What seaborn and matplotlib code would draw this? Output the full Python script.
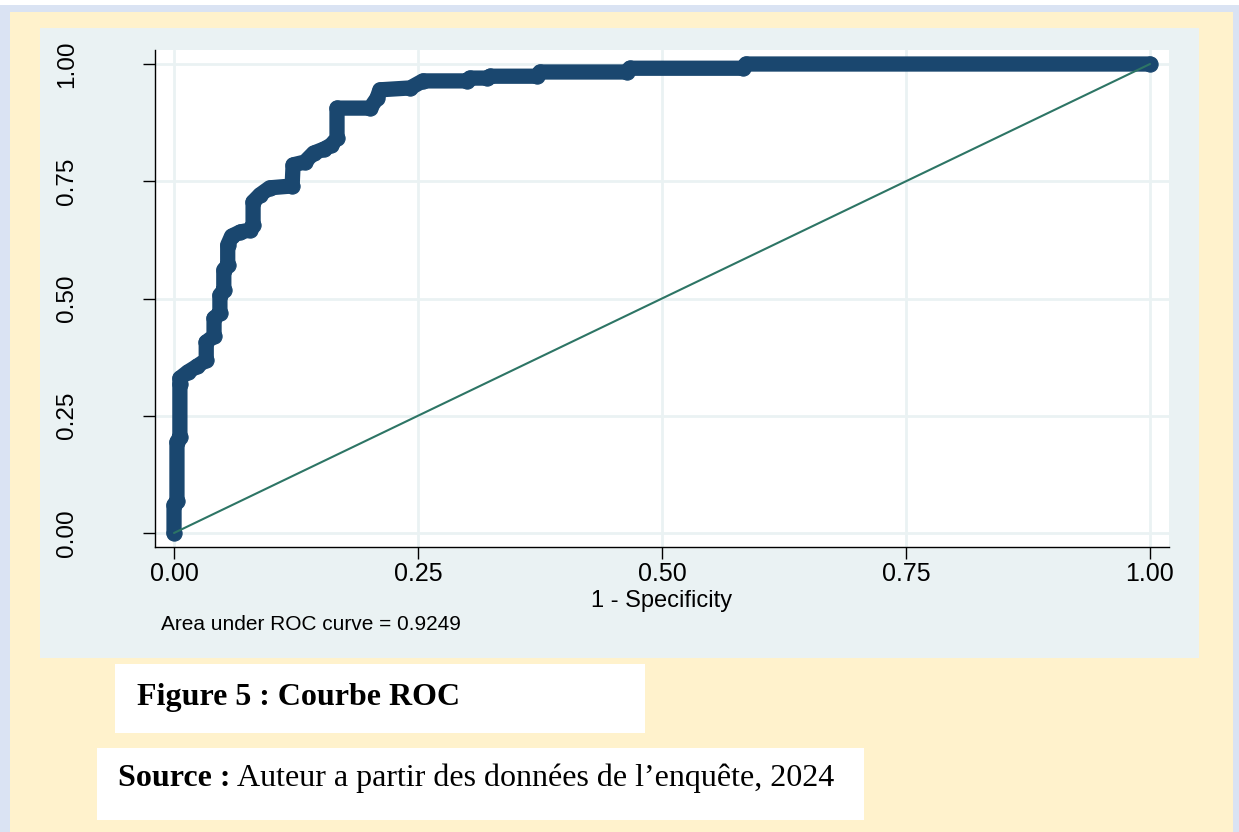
import numpy as np
import matplotlib
matplotlib.use("Agg")
import matplotlib.pyplot as plt
from matplotlib.patches import Rectangle
import seaborn as sns

# ROC points (1 - specificity, sensitivity)
fpr = [0.000, 0.000, 0.003, 0.003, 0.006, 0.006, 0.006, 0.014, 0.024, 0.033,
       0.033, 0.041, 0.041, 0.047, 0.047, 0.051, 0.051, 0.055, 0.055, 0.059,
       0.068, 0.078, 0.081, 0.081, 0.088, 0.098, 0.121, 0.122, 0.134, 0.143,
       0.154, 0.161, 0.167, 0.167, 0.201, 0.208, 0.211, 0.242, 0.255, 0.300,
       0.303, 0.321, 0.324, 0.372, 0.375, 0.464, 0.467, 0.583, 0.586, 1.000]
tpr = [0.000, 0.060, 0.068, 0.194, 0.205, 0.318, 0.330, 0.343, 0.356, 0.369,
       0.407, 0.420, 0.458, 0.469, 0.507, 0.518, 0.561, 0.571, 0.614, 0.633,
       0.642, 0.646, 0.657, 0.706, 0.721, 0.736, 0.740, 0.785, 0.791, 0.810,
       0.819, 0.827, 0.842, 0.906, 0.906, 0.927, 0.945, 0.949, 0.964, 0.964,
       0.970, 0.970, 0.974, 0.974, 0.983, 0.983, 0.991, 0.991, 1.000, 1.000]
diag = [0.0, 1.0]
ticks = [0.0, 0.25, 0.5, 0.75, 1.0]
tick_labels = ["0.00", "0.25", "0.50", "0.75", "1.00"]
auc = 0.9249

navy = "#1A476F"
teal = "#2d7565"
panel = "#EAF2F3"

sns.set_style("white")
plt.rcParams["font.family"] = ["Liberation Sans", "DejaVu Sans"]
plt.rcParams["text.color"] = "black"
plt.rcParams["xtick.labelcolor"] = "black"
plt.rcParams["ytick.labelcolor"] = "black"

W, H = 1239, 832
fig = plt.figure(figsize=(W / 100, H / 100), dpi=100)
fig.patch.set_facecolor("white")


def box(x0, y0, x1, y1, color, z):
    fig.add_artist(Rectangle((x0 / W, 1 - y1 / H), (x1 - x0) / W, (y1 - y0) / H,
                             transform=fig.transFigure, facecolor=color,
                             edgecolor="none", zorder=z))


# page background, chart panel and caption boxes
box(0, 5, 1239, 832, "#DAE3F3", -10)
box(10, 12, 1233, 832, "#FFF2CC", -9)
box(40, 28, 1199, 658, panel, -8)
box(115, 664, 645, 733, "white", -8)
box(97, 748, 864, 820, "white", -8)

ax = fig.add_axes([155 / W, 1 - 547 / H, 1014 / W, 497 / H])
ax.set_facecolor("white")

sns.lineplot(x=fpr, y=tpr, ax=ax, sort=False, estimator=None, color=navy,
             lw=11, marker="o", ms=11, mec=navy, solid_capstyle="round",
             solid_joinstyle="round", zorder=2)
sns.lineplot(x=diag, y=diag, ax=ax, sort=False, estimator=None, color=teal,
             lw=1.5, zorder=3)

ax.set_xlim(-0.0195, 1.0195)
ax.set_ylim(-0.0299, 1.0299)
ax.set_xticks(ticks, tick_labels)
ax.set_yticks(ticks, tick_labels)
ax.grid(True, color=panel, lw=2)
ax.set_axisbelow(True)
for s in ["top", "right"]:
    ax.spines[s].set_visible(False)
for s in ["left", "bottom"]:
    ax.spines[s].set_color("black")
    ax.spines[s].set_linewidth(1)
ax.tick_params(axis="both", direction="out", length=8.6, width=1,
               color="black", left=True, bottom=True)
ax.tick_params(axis="x", pad=2.5, labelsize=18)
ax.tick_params(axis="y", pad=47, labelrotation=90, labelsize=17.5)
for lbl in ax.get_yticklabels():
    lbl.set_va("center")
ax.set_xlabel("")
ax.set_ylabel("")

fig.text(662 / W, 1 - 601 / H, "1 - Specificity", ha="center", va="center",
         fontsize=17)
fig.text(161 / W, 1 - 624 / H, f"Area under ROC curve = {auc:.4f}",
         ha="left", va="center", fontsize=15)

fig.text(137 / W, 1 - 697 / H, "Figure 5 : Courbe ROC", ha="left",
         va="center", fontsize=23, family="Liberation Serif", weight="bold")
fig.text(118 / W, 1 - 778 / H, "Source :", ha="left", va="center",
         fontsize=23, family="Liberation Serif", weight="bold")
fig.text(237 / W, 1 - 778 / H, "Auteur a partir des données de l\u2019enquête, 2024",
         ha="left", va="center", fontsize=23, family="Liberation Serif")

fig.savefig("out.png", dpi=100)
